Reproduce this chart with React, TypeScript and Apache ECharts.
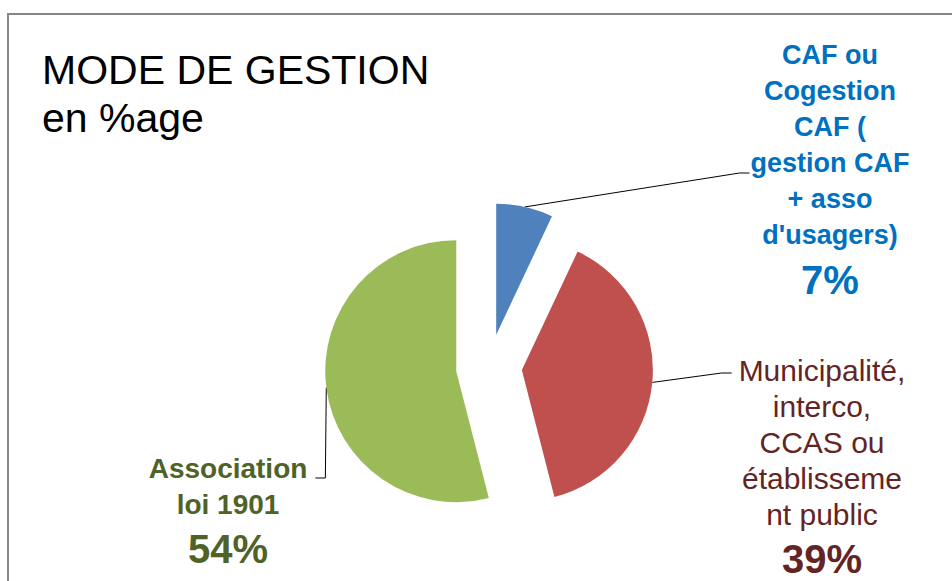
import React, { useEffect, useRef } from "react";
import * as echarts from "echarts";

// ---- data ----
const categories = [
  "CAF ou\nCogestion\nCAF (\ngestion CAF\n+ asso\nd'usagers)",
  "Municipalité,\ninterco,\nCCAS ou\nétablisseme\nnt public",
  "Association\nloi 1901",
];
const values = [7, 39, 54];
const titleLines = ["MODE DE GESTION", "en %age"];

// ---- styles / layout ----
const sliceColors = ["#4F81BD", "#C0504D", "#9BBB59"];
const labelColors = ["#0070C0", "#632523", "#4F6228"];
const nameWeights = ["bold", "normal", "bold"];
const nameSizes = [27, 30, 28];
const pieCenter = [489, 367];
const pieRadius = 131;
const explode = 33;
const labelPlacement = [
  { x: 830, y: 37, side: "left", gap: 1, attachDy: 136 },
  { x: 822, y: 352, side: "left", gap: 7, attachDy: 21 },
  { x: 228, y: 450, side: "right", gap: 8, attachDy: 28 },
];

export default function App() {
  const ref = useRef<HTMLDivElement>(null);
  useEffect(() => {
    if (!ref.current) return;
    const chart = echarts.init(ref.current, null, { renderer: "svg" });
    const total = values.reduce((a, b) => a + b, 0);
    let cum = 0;
    const series: any[] = values.map((v, i) => {
      const midFrac = (cum + v / 2) / total;
      cum += v;
      const ang = ((90 - 360 * midFrac) * Math.PI) / 180;
      const cx = pieCenter[0] + explode * Math.cos(ang);
      const cy = pieCenter[1] - explode * Math.sin(ang);
      const L = labelPlacement[i];
      return {
        type: "pie",
        silent: true,
        center: [cx, cy],
        radius: pieRadius,
        startAngle: 90,
        clockwise: true,
        avoidLabelOverlap: false,
        minShowLabelAngle: 0,
        emphasis: { disabled: true },
        data: values.map((vv, j) => {
          if (j === i) {
            return {
              name: categories[j],
              value: vv,
              itemStyle: { color: sliceColors[j], borderWidth: 0 },
              label: {
                show: true,
                position: "outside",
                formatter: (p: any) => `{n|${p.name}}\n{p|${p.value}%}`,
                rich: {
                  n: {
                    fontFamily: "Liberation Sans, Arial, sans-serif",
                    fontSize: nameSizes[j],
                    fontWeight: nameWeights[j],
                    color: labelColors[j],
                    lineHeight: 36,
                    align: "center",
                  },
                  p: {
                    fontFamily: "Liberation Sans, Arial, sans-serif",
                    fontSize: 40,
                    fontWeight: "bold",
                    color: labelColors[j],
                    lineHeight: 54,
                    align: "center",
                  },
                },
              },
              labelLine: { show: true, lineStyle: { color: "#000", width: 1 } },
            };
          }
          return {
            name: categories[j],
            value: vv,
            itemStyle: { color: "rgba(0,0,0,0)", borderWidth: 0 },
            label: { show: false },
            labelLine: { show: false },
          };
        }),
        labelLayout: (params: any) => {
          const w = params.labelRect ? params.labelRect.width : 160;
          let start = params.labelLinePoints && params.labelLinePoints[0];
          if (!start) {
            start = [cx + pieRadius * Math.cos(ang), cy - pieRadius * Math.sin(ang)];
          }
          const edgeX = L.side === "left" ? L.x - w / 2 - L.gap : L.x + w / 2 + L.gap;
          const ey = L.y + L.attachDy;
          const knee = L.side === "left" ? edgeX - 10 : edgeX + 10;
          return {
            x: L.x,
            y: L.y,
            align: "center",
            verticalAlign: "top",
            labelLinePoints: [start, [knee, ey], [edgeX, ey]],
          };
        },
      };
    });

    chart.setOption({
      animation: false,
      backgroundColor: "#ffffff",
      title: {
        text: titleLines.join("\n"),
        left: 37,
        top: 41,
        textStyle: {
          fontFamily: "Liberation Sans, Arial, sans-serif",
          fontSize: 41,
          fontWeight: "normal",
          color: "#000",
          lineHeight: 48,
        },
      },
      graphic: [
        {
          type: "rect",
          silent: true,
          shape: { x: 8, y: 14, width: 1200, height: 1000 },
          style: { fill: "none", stroke: "#878787", lineWidth: 2 },
        },
      ],
      series,
    });
    return () => chart.dispose();
  }, []);
  return (
    <div
      ref={ref}
      style={{ position: "absolute", left: 0, top: 0, width: 952, height: 581 }}
    />
  );
}
